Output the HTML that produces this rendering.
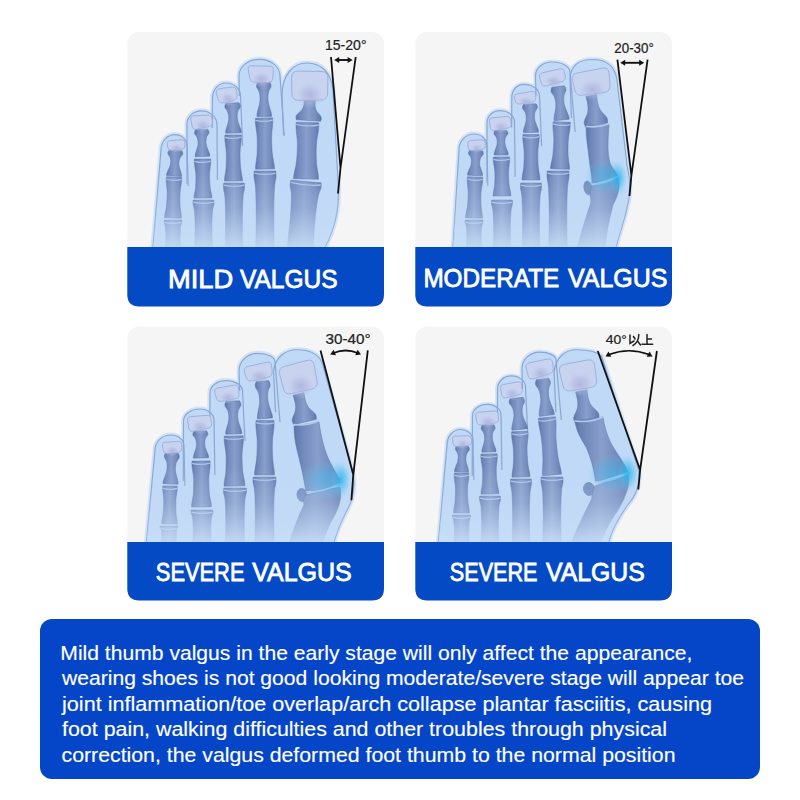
<!DOCTYPE html>
<html><head><meta charset="utf-8"><style>
html,body{margin:0;padding:0;background:#fff;}
body{width:800px;height:800px;overflow:hidden;}
svg{display:block;font-family:"Liberation Sans",sans-serif;}
</style></head><body>
<svg width="800" height="800" viewBox="0 0 800 800">
<rect width="800" height="800" fill="#fff"/>
<defs>
<linearGradient id="bx" x1="0" y1="0" x2="1" y2="0">
 <stop offset="0" stop-color="#5c75a8"/><stop offset="0.18" stop-color="#7188bb"/><stop offset="0.5" stop-color="#889ecb"/><stop offset="0.82" stop-color="#738abc"/><stop offset="1" stop-color="#5e77aa"/></linearGradient>
<radialGradient id="nb"><stop offset="0" stop-color="#a9b0d8" stop-opacity="0.8"/><stop offset="0.55" stop-color="#b2b9df" stop-opacity="0.5"/><stop offset="1" stop-color="#bcc4e6" stop-opacity="0"/></radialGradient>
<radialGradient id="glow2"><stop offset="0" stop-color="#28b4ee" stop-opacity="0.55"/><stop offset="0.55" stop-color="#3cbaf0" stop-opacity="0.3"/><stop offset="1" stop-color="#60c8f4" stop-opacity="0"/></radialGradient>
<radialGradient id="glow"><stop offset="0" stop-color="#12b0f0" stop-opacity="0.8"/><stop offset="0.5" stop-color="#30b8f0" stop-opacity="0.42"/><stop offset="1" stop-color="#60c8f4" stop-opacity="0"/></radialGradient>
<linearGradient id="fdA" gradientUnits="userSpaceOnUse" x1="0" y1="170" x2="0" y2="247">
 <stop offset="0" stop-color="#c4dbf6" stop-opacity="0"/><stop offset="0.5" stop-color="#c4dbf6" stop-opacity="0.3"/><stop offset="1" stop-color="#c8def8" stop-opacity="0.9"/></linearGradient>
<linearGradient id="fdB" gradientUnits="userSpaceOnUse" x1="0" y1="465" x2="0" y2="542">
 <stop offset="0" stop-color="#c4dbf6" stop-opacity="0"/><stop offset="0.5" stop-color="#c4dbf6" stop-opacity="0.3"/><stop offset="1" stop-color="#c8def8" stop-opacity="0.9"/></linearGradient>
</defs><rect x="127.3" y="32" width="256.7" height="274.5" rx="12" fill="#f5f5f5"/><rect x="415.3" y="32" width="256.7" height="274.5" rx="12" fill="#f5f5f5"/><rect x="127.3" y="326.5" width="256.7" height="274.1" rx="12" fill="#f5f5f5"/><rect x="415.3" y="326.5" width="256.7" height="274.1" rx="12" fill="#f5f5f5"/><path d="M153,247 L161,150 C161,141.38 167.16,134.6 175,134.6 C181.72,134.6 187,139.62 187,146 L190,247 Z" fill="#d2e3f8" stroke="#d2e3f8" stroke-width="5" stroke-linejoin="round"/><path d="M187,247 L187,124 C187,116.61 193.38,110.8 201.5,110.8 C210.18,110.8 217,117.05 217,125 L218,247 Z" fill="#d2e3f8" stroke="#d2e3f8" stroke-width="5" stroke-linejoin="round"/><path d="M211,247 L212.5,98 C212.5,89.6 218.44,83 226,83 C234.12,83 240.5,88.72 240.5,96 L247,247 Z" fill="#d2e3f8" stroke="#d2e3f8" stroke-width="5" stroke-linejoin="round"/><path d="M242,247 L239,76 C239,66.65 248.02,59.3 259.5,59.3 C270.98,59.3 280,66.65 280,76 L292,247 Z" fill="#d2e3f8" stroke="#d2e3f8" stroke-width="5" stroke-linejoin="round"/><path d="M288,247 L282,95 C282,75 293,63 307,63 C321,63 331,72 333,90 L338.5,190 C339,215 333,232 325,247 Z" fill="#d2e3f8" stroke="#d2e3f8" stroke-width="5" stroke-linejoin="round"/><path d="M153,247 L161,150 C161,141.38 167.16,134.6 175,134.6 C181.72,134.6 187,139.62 187,146 L190,247 Z" fill="#c0d9f6"/><path d="M187,247 L187,124 C187,116.61 193.38,110.8 201.5,110.8 C210.18,110.8 217,117.05 217,125 L218,247 Z" fill="#c0d9f6"/><path d="M211,247 L212.5,98 C212.5,89.6 218.44,83 226,83 C234.12,83 240.5,88.72 240.5,96 L247,247 Z" fill="#c0d9f6"/><path d="M242,247 L239,76 C239,66.65 248.02,59.3 259.5,59.3 C270.98,59.3 280,66.65 280,76 L292,247 Z" fill="#c0d9f6"/><path d="M288,247 L282,95 C282,75 293,63 307,63 C321,63 331,72 333,90 L338.5,190 C339,215 333,232 325,247 Z" fill="#c0d9f6"/><path d="M153,247 L161,150 C161,141.38 167.16,134.6 175,134.6 C181.72,134.6 187,139.62 187,146 L188.19,186" fill="none" stroke="#8ba6d2" stroke-width="1.2"/><path d="M187,184 L187,124 C187,116.61 193.38,110.8 201.5,110.8 C210.18,110.8 217,117.05 217,125 L217.45,180" fill="none" stroke="#8ba6d2" stroke-width="1.2"/><path d="M212.2,128 L212.5,98 C212.5,89.6 218.44,83 226,83 C234.12,83 240.5,88.72 240.5,96 L242.65,146" fill="none" stroke="#8ba6d2" stroke-width="1.2"/><path d="M239.35,96 L239,76 C239,66.65 248.02,59.3 259.5,59.3 C270.98,59.3 280,66.65 280,76 L284.21,136" fill="none" stroke="#8ba6d2" stroke-width="1.2"/><path d="M283.58,135 L282,95 C282,75 293,63 307,63 C321,63 331,72 333,90 L338.5,190 C339,215 333,232 325,247" fill="none" stroke="#8ba6d2" stroke-width="1.2"/><path d="M165.44,249 C165.5,246.82 165.83,239.72 165.8,235.95 C165.77,232.18 165.56,228.65 165.26,226.38 C164.96,224.11 164.18,223.38 164,222.32 C163.82,221.26 164.15,220.39 164.18,220 L181.82,220 C181.85,220.39 182.18,221.26 182,222.32 C181.82,223.38 181.04,224.11 180.74,226.38 C180.44,228.65 180.23,232.18 180.2,235.95 C180.17,239.72 180.5,246.82 180.56,249 Z" fill="url(#bx)" stroke="#5873a8" stroke-opacity="0.6" stroke-width="0.8"/><path d="M164.27,222.2 Q173,224.7 181.73,222.2" fill="none" stroke="#b4c8ec" stroke-width="1.3" stroke-opacity="0.9"/><path d="M164.5,217.79 C164.56,217.25 164.5,216.56 164.84,214.52 C165.17,212.48 166.11,209.22 166.5,205.53 C166.89,201.85 167.21,196.39 167.16,192.42 C167.12,188.46 166.37,184.33 166.23,181.73 C166.1,179.13 166.33,177.63 166.35,176.81 L181.65,177.19 C181.63,178.01 181.79,179.51 181.53,182.11 C181.27,184.7 180.32,188.78 180.08,192.74 C179.84,196.7 179.89,202.17 180.1,205.87 C180.31,209.56 181.09,212.86 181.32,214.92 C181.56,216.98 181.47,217.66 181.5,218.21 Z" fill="url(#bx)" stroke="#5873a8" stroke-opacity="0.6" stroke-width="0.8"/><path d="M166.3,179.01 Q173.89,181.7 181.59,179.39" fill="none" stroke="#b4c8ec" stroke-width="1.3" stroke-opacity="0.9"/><path d="M166.51,175.56 C166.58,175.14 166.29,174.69 166.89,173.02 C167.49,171.35 169.47,167.63 170.11,165.54 C170.74,163.44 170.75,161.91 170.71,160.45 C170.67,159 170.33,157.92 169.87,156.82 C169.41,155.73 168.23,154.72 167.94,153.89 C167.65,153.07 167.92,152.49 168.13,151.86 C168.34,151.23 169.03,150.42 169.21,150.13 L181.79,150.87 C181.93,151.18 182.52,152.06 182.66,152.71 C182.79,153.36 183,153.97 182.61,154.76 C182.23,155.54 180.94,156.41 180.35,157.44 C179.76,158.47 179.3,159.51 179.09,160.95 C178.88,162.38 178.71,163.91 179.09,166.06 C179.48,168.22 181.01,172.15 181.41,173.88 C181.81,175.61 181.47,176.01 181.49,176.44 Z" fill="url(#bx)" stroke="#5873a8" stroke-opacity="0.6" stroke-width="0.8"/><path d="M194.68,249 C194.75,245.32 195.13,233.32 195.1,226.95 C195.06,220.58 194.82,214.62 194.47,210.78 C194.12,206.94 193.21,205.72 193,203.92 C192.79,202.12 193.18,200.65 193.21,200 L213.79,200 C213.82,200.65 214.21,202.12 214,203.92 C213.79,205.72 212.88,206.94 212.53,210.78 C212.18,214.62 211.94,220.58 211.9,226.95 C211.87,233.32 212.25,245.32 212.32,249 Z" fill="url(#bx)" stroke="#5873a8" stroke-opacity="0.6" stroke-width="0.8"/><path d="M193.31,202.2 Q203.5,204.7 213.69,202.2" fill="none" stroke="#b4c8ec" stroke-width="1.3" stroke-opacity="0.9"/><path d="M194,198.12 C194.04,197.59 193.96,196.95 194.23,194.99 C194.51,193.04 195.38,189.91 195.65,186.39 C195.92,182.88 196.05,177.68 195.85,173.91 C195.65,170.14 194.7,166.25 194.46,163.78 C194.22,161.32 194.41,159.88 194.4,159.1 L210.6,158.9 C210.61,159.68 210.84,161.1 210.66,163.58 C210.48,166.05 209.63,169.96 209.53,173.73 C209.43,177.5 209.69,182.7 210.05,186.21 C210.41,189.71 211.36,192.82 211.69,194.77 C212.01,196.71 211.95,197.37 212,197.88 Z" fill="url(#bx)" stroke="#5873a8" stroke-opacity="0.6" stroke-width="0.8"/><path d="M194.43,161.3 Q202.56,163.7 210.63,161.1" fill="none" stroke="#b4c8ec" stroke-width="1.3" stroke-opacity="0.9"/><path d="M195.25,156.74 C195.28,156.29 194.96,155.85 195.38,154.03 C195.8,152.22 197.37,148.11 197.79,145.84 C198.21,143.58 198.07,141.96 197.9,140.44 C197.73,138.91 197.31,137.8 196.76,136.69 C196.22,135.58 194.99,134.63 194.63,133.79 C194.28,132.94 194.49,132.3 194.63,131.62 C194.78,130.94 195.37,130.02 195.51,129.7 L207.69,129.3 C207.85,129.61 208.5,130.49 208.69,131.16 C208.88,131.83 209.13,132.45 208.84,133.31 C208.54,134.18 207.38,135.21 206.91,136.35 C206.44,137.49 206.09,138.63 206.02,140.16 C205.95,141.7 205.92,143.32 206.49,145.56 C207.06,147.79 208.9,151.78 209.44,153.57 C209.98,155.35 209.69,155.81 209.75,156.26 Z" fill="url(#bx)" stroke="#5873a8" stroke-opacity="0.6" stroke-width="0.8"/><path d="M225.18,249 C225.25,244.05 225.63,227.88 225.6,219.3 C225.56,210.72 225.32,202.69 224.97,197.52 C224.62,192.35 223.71,190.7 223.5,188.28 C223.29,185.86 223.68,183.88 223.71,183 L244.29,183 C244.32,183.88 244.71,185.86 244.5,188.28 C244.29,190.7 243.38,192.35 243.03,197.52 C242.68,202.69 242.44,210.72 242.4,219.3 C242.37,227.88 242.75,244.05 242.82,249 Z" fill="url(#bx)" stroke="#5873a8" stroke-opacity="0.6" stroke-width="0.8"/><path d="M223.81,185.2 Q234,187.7 244.19,185.2" fill="none" stroke="#b4c8ec" stroke-width="1.3" stroke-opacity="0.9"/><path d="M224.5,181.1 C224.54,180.48 224.46,179.72 224.73,177.41 C225.01,175.11 225.88,171.42 226.15,167.28 C226.42,163.13 226.55,157 226.35,152.55 C226.15,148.11 225.2,143.52 224.96,140.61 C224.72,137.7 224.91,136.01 224.9,135.09 L241.1,134.91 C241.11,135.83 241.34,137.52 241.16,140.43 C240.98,143.35 240.13,147.96 240.03,152.41 C239.93,156.85 240.19,162.99 240.55,167.12 C240.91,171.26 241.86,174.93 242.19,177.23 C242.51,179.52 242.45,180.29 242.5,180.9 Z" fill="url(#bx)" stroke="#5873a8" stroke-opacity="0.6" stroke-width="0.8"/><path d="M224.92,137.29 Q233.05,139.7 241.12,137.11" fill="none" stroke="#b4c8ec" stroke-width="1.3" stroke-opacity="0.9"/><path d="M225.75,133.26 C225.78,132.76 225.44,132.27 225.89,130.25 C226.34,128.23 228.01,123.67 228.45,121.15 C228.9,118.64 228.75,116.84 228.56,115.14 C228.38,113.45 227.92,112.21 227.34,110.98 C226.75,109.75 225.44,108.69 225.06,107.75 C224.68,106.81 224.9,106.11 225.06,105.35 C225.21,104.59 225.84,103.57 225.99,103.22 L239.01,102.78 C239.19,103.13 239.88,104.11 240.08,104.85 C240.29,105.59 240.56,106.29 240.24,107.25 C239.92,108.21 238.68,109.35 238.18,110.62 C237.68,111.89 237.31,113.15 237.24,114.86 C237.17,116.56 237.13,118.36 237.75,120.85 C238.36,123.33 240.33,127.77 240.91,129.75 C241.5,131.73 241.19,132.24 241.25,132.74 Z" fill="url(#bx)" stroke="#5873a8" stroke-opacity="0.6" stroke-width="0.8"/><path d="M255.76,249 C255.83,243.15 256.24,224.04 256.2,213.9 C256.16,203.76 255.91,194.27 255.54,188.16 C255.17,182.05 254.22,180.1 254,177.24 C253.78,174.38 254.18,172.04 254.22,171 L275.78,171 C275.82,172.04 276.22,174.38 276,177.24 C275.78,180.1 274.83,182.05 274.46,188.16 C274.09,194.27 273.84,203.76 273.8,213.9 C273.76,224.04 274.17,243.15 274.24,249 Z" fill="url(#bx)" stroke="#5873a8" stroke-opacity="0.6" stroke-width="0.8"/><path d="M254.33,173.2 Q265,175.7 275.67,173.2" fill="none" stroke="#b4c8ec" stroke-width="1.3" stroke-opacity="0.9"/><path d="M255.5,169.19 C255.54,168.51 255.44,167.66 255.71,165.1 C255.97,162.54 256.86,158.45 257.1,153.85 C257.34,149.25 257.42,142.45 257.16,137.52 C256.91,132.59 255.86,127.51 255.57,124.29 C255.29,121.06 255.47,119.19 255.45,118.17 L272.55,117.83 C272.57,118.85 272.83,120.72 272.67,123.95 C272.51,127.19 271.66,132.31 271.6,137.24 C271.54,142.17 271.88,148.97 272.3,153.55 C272.72,158.13 273.77,162.2 274.13,164.74 C274.5,167.28 274.44,168.13 274.5,168.81 Z" fill="url(#bx)" stroke="#5873a8" stroke-opacity="0.6" stroke-width="0.8"/><path d="M255.49,120.37 Q264.09,122.7 272.59,120.03" fill="none" stroke="#b4c8ec" stroke-width="1.3" stroke-opacity="0.9"/><path d="M257,116.61 C257.03,116.03 256.72,115.46 257.17,113.15 C257.62,110.84 259.25,105.65 259.7,102.76 C260.15,99.88 260.04,97.81 259.89,95.86 C259.74,93.91 259.33,92.47 258.81,91.04 C258.28,89.61 257.06,88.37 256.72,87.28 C256.38,86.19 256.6,85.38 256.75,84.52 C256.91,83.65 257.51,82.49 257.66,82.09 L269.84,81.91 C270,82.31 270.64,83.45 270.82,84.31 C271,85.17 271.24,85.97 270.93,87.07 C270.62,88.17 269.44,89.45 268.95,90.9 C268.47,92.34 268.1,93.78 268.01,95.74 C267.92,97.7 267.86,99.77 268.4,102.64 C268.94,105.5 270.72,110.66 271.23,112.95 C271.75,115.24 271.45,115.82 271.5,116.39 Z" fill="url(#bx)" stroke="#5873a8" stroke-opacity="0.6" stroke-width="0.8"/><path d="M287.03,247.85 C287.58,242.79 289.62,226.31 290.35,217.53 C291.08,208.75 291.45,200.5 291.4,195.17 C291.36,189.84 290.17,188.03 290.08,185.53 C289.99,183.03 290.74,181.05 290.87,180.16 L321.13,182.84 C321.1,183.75 321.49,185.82 320.96,188.27 C320.43,190.72 318.94,192.29 317.96,197.53 C316.97,202.77 315.88,210.95 315.05,219.72 C314.22,228.49 313.32,245.08 312.97,250.15 Z" fill="url(#bx)" stroke="#5873a8" stroke-opacity="0.6" stroke-width="0.8"/><path d="M290.83,182.36 Q305.58,186.18 320.78,185.02" fill="none" stroke="#b4c8ec" stroke-width="1.3" stroke-opacity="0.9"/><path d="M293.5,178.67 C293.59,177.92 293.51,176.97 294,174.16 C294.49,171.34 295.88,166.86 296.45,161.78 C297.03,156.71 297.5,149.19 297.43,143.72 C297.37,138.25 296.27,132.57 296.07,128.98 C295.88,125.4 296.22,123.33 296.25,122.2 L318.75,122.8 C318.72,123.93 318.95,126.01 318.57,129.58 C318.18,133.15 316.78,138.77 316.43,144.22 C316.07,149.68 316.14,157.22 316.45,162.32 C316.75,167.41 317.9,171.97 318.24,174.8 C318.58,177.64 318.45,178.58 318.5,179.33 Z" fill="url(#bx)" stroke="#5873a8" stroke-opacity="0.6" stroke-width="0.8"/><path d="M296.2,124.4 Q307.38,127.2 318.69,125" fill="none" stroke="#b4c8ec" stroke-width="1.3" stroke-opacity="0.9"/><path d="M296.4,119.71 C296.38,119.02 295.37,117.22 296.3,115.55 C297.22,113.87 300.65,111.6 301.94,109.68 C303.23,107.76 303.67,106.13 304.06,104.04 C304.45,101.95 304.23,98.28 304.26,97.13 L315.74,97.87 C315.62,99.02 314.93,102.63 315.04,104.76 C315.15,106.88 315.38,108.55 316.41,110.62 C317.44,112.69 320.55,115.4 321.24,117.17 C321.94,118.95 320.71,120.6 320.6,121.29 Z" fill="url(#bx)" stroke="#5873a8" stroke-opacity="0.6" stroke-width="0.8"/><path d="M170.09,140.7 L181.51,139.7 Q185,139.4 185,142.9 L185,145.5 Q185,149 181.52,149.36 L171.88,150.34 Q168.4,150.7 167.76,147.26 L167.24,144.44 Q166.6,141 170.09,140.7 Z" fill="#c8d3f0" stroke="#8fa3d2" stroke-width="0.9" stroke-opacity="0.8"/><ellipse cx="176.54" cy="148.16" rx="6.65" ry="4.44" fill="url(#nb)"/><path d="M194,115.81 L207.5,115.19 Q211.5,115 212.07,118.96 L212.43,121.54 Q213,125.5 209.1,126.38 L196.9,129.12 Q193,130 192.16,126.09 L190.84,119.91 Q190,116 194,115.81 Z" fill="#c8d3f0" stroke="#8fa3d2" stroke-width="0.9" stroke-opacity="0.8"/><ellipse cx="202.61" cy="125.61" rx="7.75" ry="6.44" fill="url(#nb)"/><path d="M219.95,88.69 L231.05,87.11 Q236,86.4 236.64,91.36 L237.06,94.54 Q237.7,99.5 232.84,100.67 L224.26,102.73 Q219.4,103.9 217.95,99.12 L216.45,94.18 Q215,89.4 219.95,88.69 Z" fill="#c8d3f0" stroke="#8fa3d2" stroke-width="0.9" stroke-opacity="0.8"/><ellipse cx="228.02" cy="99.28" rx="7.64" ry="6.82" fill="url(#nb)"/><path d="M251.5,65.7 L269.75,66.15 Q273.75,66.25 273.44,70.24 L272.81,78.51 Q272.5,82.5 268.5,82.5 L254.6,82.5 Q250.6,82.5 249.88,78.57 L248.22,69.53 Q247.5,65.6 251.5,65.7 Z" fill="#c8d3f0" stroke="#8fa3d2" stroke-width="0.9" stroke-opacity="0.8"/><ellipse cx="261.39" cy="79.6" rx="9.45" ry="7.73" fill="url(#nb)"/><path d="M298.5,71.1 L321,71.4 Q328,71.5 327.88,78.5 L327.62,93 Q327.5,100 320.5,100.1 L299,100.4 Q292,100.5 291.88,93.5 L291.62,78 Q291.5,71 298.5,71.1 Z" fill="#c8d3f0" stroke="#8fa3d2" stroke-width="0.9" stroke-opacity="0.8"/><ellipse cx="309.75" cy="95.18" rx="13.14" ry="13.28" fill="url(#nb)"/><clipPath id="c1"><path d="M153,247 L161,150 C161,141.38 167.16,134.6 175,134.6 C181.72,134.6 187,139.62 187,146 L190,247 Z"/><path d="M187,247 L187,124 C187,116.61 193.38,110.8 201.5,110.8 C210.18,110.8 217,117.05 217,125 L218,247 Z"/><path d="M211,247 L212.5,98 C212.5,89.6 218.44,83 226,83 C234.12,83 240.5,88.72 240.5,96 L247,247 Z"/><path d="M242,247 L239,76 C239,66.65 248.02,59.3 259.5,59.3 C270.98,59.3 280,66.65 280,76 L292,247 Z"/><path d="M288,247 L282,95 C282,75 293,63 307,63 C321,63 331,72 333,90 L338.5,190 C339,215 333,232 325,247 Z"/></clipPath><rect clip-path="url(#c1)" x="100" y="170" width="600" height="77" fill="url(#fdA)"/><path d="M453,247 L459,150 C459,141.04 465.6,134 474,134 C481.28,134 487,139.28 487,146 L489,247 Z" fill="#d2e3f8" stroke="#d2e3f8" stroke-width="5" stroke-linejoin="round"/><path d="M487,247 L487,123 C487,116.06 492.72,110.6 500,110.6 C508.12,110.6 514.5,115.62 514.5,122 L516,247 Z" fill="#d2e3f8" stroke="#d2e3f8" stroke-width="5" stroke-linejoin="round"/><path d="M511,247 L511.8,97.5 C511.8,90.16 516.99,84.4 523.6,84.4 C532.5,84.4 539.5,89.5 539.5,96 L546,247 Z" fill="#d2e3f8" stroke="#d2e3f8" stroke-width="5" stroke-linejoin="round"/><path d="M540,247 L535.5,76 C535.5,68.16 542.76,62 552,62 C562.08,62 570,66.4 570,72 L585,247 Z" fill="#d2e3f8" stroke="#d2e3f8" stroke-width="5" stroke-linejoin="round"/><path d="M576,247 L570,78 C571,65 580,59.5 592.5,59.5 C606,59.5 615,66 617,80 L627,165 C631,180 631,195 626,212 C622,228 618,238 616,247 Z" fill="#d2e3f8" stroke="#d2e3f8" stroke-width="5" stroke-linejoin="round"/><path d="M453,247 L459,150 C459,141.04 465.6,134 474,134 C481.28,134 487,139.28 487,146 L489,247 Z" fill="#c0d9f6"/><path d="M487,247 L487,123 C487,116.06 492.72,110.6 500,110.6 C508.12,110.6 514.5,115.62 514.5,122 L516,247 Z" fill="#c0d9f6"/><path d="M511,247 L511.8,97.5 C511.8,90.16 516.99,84.4 523.6,84.4 C532.5,84.4 539.5,89.5 539.5,96 L546,247 Z" fill="#c0d9f6"/><path d="M540,247 L535.5,76 C535.5,68.16 542.76,62 552,62 C562.08,62 570,66.4 570,72 L585,247 Z" fill="#c0d9f6"/><path d="M576,247 L570,78 C571,65 580,59.5 592.5,59.5 C606,59.5 615,66 617,80 L627,165 C631,180 631,195 626,212 C622,228 618,238 616,247 Z" fill="#c0d9f6"/><path d="M453,247 L459,150 C459,141.04 465.6,134 474,134 C481.28,134 487,139.28 487,146 L487.79,186" fill="none" stroke="#8ba6d2" stroke-width="1.2"/><path d="M487,183 L487,123 C487,116.06 492.72,110.6 500,110.6 C508.12,110.6 514.5,115.62 514.5,122 L515.16,177" fill="none" stroke="#8ba6d2" stroke-width="1.2"/><path d="M511.64,127.5 L511.8,97.5 C511.8,90.16 516.99,84.4 523.6,84.4 C532.5,84.4 539.5,89.5 539.5,96 L541.65,146" fill="none" stroke="#8ba6d2" stroke-width="1.2"/><path d="M536.03,96 L535.5,76 C535.5,68.16 542.76,62 552,62 C562.08,62 570,66.4 570,72 L575.14,132" fill="none" stroke="#8ba6d2" stroke-width="1.2"/><path d="M571.42,118 L570,78 C571,65 580,59.5 592.5,59.5 C606,59.5 615,66 617,80 L627,165 C631,180 631,195 626,212 C622,228 618,238 616,247" fill="none" stroke="#8ba6d2" stroke-width="1.2"/><path d="M466.44,249 C466.5,246.82 466.83,239.72 466.8,235.95 C466.77,232.18 466.56,228.65 466.26,226.38 C465.96,224.11 465.18,223.38 465,222.32 C464.82,221.26 465.15,220.39 465.18,220 L482.82,220 C482.85,220.39 483.18,221.26 483,222.32 C482.82,223.38 482.04,224.11 481.74,226.38 C481.44,228.65 481.23,232.18 481.2,235.95 C481.17,239.72 481.5,246.82 481.56,249 Z" fill="url(#bx)" stroke="#5873a8" stroke-opacity="0.6" stroke-width="0.8"/><path d="M465.27,222.2 Q474,224.7 482.73,222.2" fill="none" stroke="#b4c8ec" stroke-width="1.3" stroke-opacity="0.9"/><path d="M465.5,217.79 C465.56,217.25 465.5,216.56 465.84,214.52 C466.17,212.48 467.11,209.22 467.5,205.53 C467.89,201.85 468.21,196.39 468.16,192.42 C468.12,188.46 467.37,184.33 467.23,181.73 C467.1,179.13 467.33,177.63 467.35,176.81 L482.65,177.19 C482.63,178.01 482.79,179.51 482.53,182.11 C482.27,184.7 481.32,188.78 481.08,192.74 C480.84,196.7 480.89,202.17 481.1,205.87 C481.31,209.56 482.09,212.86 482.32,214.92 C482.56,216.98 482.47,217.66 482.5,218.21 Z" fill="url(#bx)" stroke="#5873a8" stroke-opacity="0.6" stroke-width="0.8"/><path d="M467.3,179.01 Q474.89,181.7 482.59,179.39" fill="none" stroke="#b4c8ec" stroke-width="1.3" stroke-opacity="0.9"/><path d="M467.51,175.2 C467.56,174.79 467.26,174.36 467.83,172.71 C468.4,171.06 470.31,167.38 470.9,165.32 C471.5,163.26 471.47,161.75 471.4,160.33 C471.34,158.91 470.98,157.85 470.49,156.79 C470.01,155.73 468.81,154.76 468.51,153.96 C468.2,153.15 468.46,152.58 468.66,151.96 C468.86,151.34 469.53,150.53 469.71,150.25 L482.29,150.75 C482.45,151.05 483.05,151.91 483.2,152.54 C483.35,153.17 483.56,153.77 483.19,154.54 C482.83,155.32 481.55,156.19 480.99,157.21 C480.42,158.23 479.98,159.26 479.8,160.67 C479.62,162.08 479.47,163.58 479.9,165.68 C480.33,167.78 481.94,171.6 482.37,173.29 C482.8,174.98 482.47,175.38 482.49,175.8 Z" fill="url(#bx)" stroke="#5873a8" stroke-opacity="0.6" stroke-width="0.8"/><path d="M493.18,249 C493.25,245.32 493.63,233.32 493.6,226.95 C493.57,220.58 493.32,214.62 492.97,210.78 C492.62,206.94 491.71,205.72 491.5,203.92 C491.29,202.12 491.67,200.65 491.71,200 L512.29,200 C512.32,200.65 512.71,202.12 512.5,203.92 C512.29,205.72 511.38,206.94 511.03,210.78 C510.68,214.62 510.43,220.58 510.4,226.95 C510.37,233.32 510.75,245.32 510.82,249 Z" fill="url(#bx)" stroke="#5873a8" stroke-opacity="0.6" stroke-width="0.8"/><path d="M491.81,202.2 Q502,204.7 512.18,202.2" fill="none" stroke="#b4c8ec" stroke-width="1.3" stroke-opacity="0.9"/><path d="M493,196.12 C493.04,195.59 492.96,194.95 493.23,192.99 C493.51,191.04 494.38,187.91 494.65,184.39 C494.92,180.88 495.05,175.68 494.85,171.91 C494.65,168.14 493.7,164.25 493.46,161.78 C493.22,159.32 493.41,157.88 493.4,157.1 L509.6,156.9 C509.61,157.68 509.84,159.1 509.66,161.58 C509.48,164.05 508.63,167.96 508.53,171.73 C508.43,175.5 508.69,180.7 509.05,184.21 C509.41,187.71 510.36,190.82 510.69,192.77 C511.01,194.71 510.95,195.37 511,195.88 Z" fill="url(#bx)" stroke="#5873a8" stroke-opacity="0.6" stroke-width="0.8"/><path d="M493.43,159.3 Q501.56,161.7 509.63,159.1" fill="none" stroke="#b4c8ec" stroke-width="1.3" stroke-opacity="0.9"/><path d="M494.2,155.09 C494.23,154.68 493.93,154.27 494.38,152.63 C494.83,150.99 496.43,147.3 496.88,145.25 C497.33,143.2 497.23,141.73 497.1,140.35 C496.97,138.96 496.58,137.94 496.08,136.93 C495.58,135.92 494.41,135.03 494.09,134.26 C493.76,133.49 493.98,132.91 494.13,132.3 C494.29,131.68 494.87,130.86 495.02,130.57 L506.78,130.43 C506.93,130.71 507.54,131.52 507.71,132.13 C507.88,132.74 508.11,133.31 507.8,134.09 C507.5,134.87 506.36,135.78 505.88,136.81 C505.4,137.84 505.04,138.86 504.94,140.25 C504.84,141.64 504.78,143.11 505.28,145.15 C505.78,147.18 507.47,150.84 507.96,152.47 C508.45,154.09 508.16,154.51 508.2,154.91 Z" fill="url(#bx)" stroke="#5873a8" stroke-opacity="0.6" stroke-width="0.8"/><path d="M522.18,249 C522.25,244.05 522.63,227.88 522.6,219.3 C522.57,210.72 522.32,202.69 521.97,197.52 C521.62,192.35 520.71,190.7 520.5,188.28 C520.29,185.86 520.68,183.88 520.71,183 L541.29,183 C541.32,183.88 541.71,185.86 541.5,188.28 C541.29,190.7 540.38,192.35 540.03,197.52 C539.68,202.69 539.43,210.72 539.4,219.3 C539.37,227.88 539.75,244.05 539.82,249 Z" fill="url(#bx)" stroke="#5873a8" stroke-opacity="0.6" stroke-width="0.8"/><path d="M520.82,185.2 Q531,187.7 541.18,185.2" fill="none" stroke="#b4c8ec" stroke-width="1.3" stroke-opacity="0.9"/><path d="M522,180 C522.04,179.39 521.97,178.64 522.27,176.36 C522.57,174.09 523.48,170.44 523.8,166.35 C524.12,162.25 524.31,156.19 524.16,151.79 C524.01,147.39 523.11,142.84 522.9,139.96 C522.69,137.08 522.9,135.41 522.9,134.5 L539.1,134.5 C539.1,135.41 539.31,137.08 539.1,139.96 C538.89,142.84 537.99,147.39 537.84,151.79 C537.69,156.19 537.88,162.25 538.2,166.35 C538.52,170.44 539.43,174.09 539.73,176.36 C540.03,178.64 539.96,179.39 540,180 Z" fill="url(#bx)" stroke="#5873a8" stroke-opacity="0.6" stroke-width="0.8"/><path d="M522.9,136.7 Q531,139.2 539.1,136.7" fill="none" stroke="#b4c8ec" stroke-width="1.3" stroke-opacity="0.9"/><path d="M523.51,132.82 C523.52,132.34 523.19,131.88 523.61,129.96 C524.03,128.04 525.61,123.69 526.02,121.29 C526.44,118.89 526.28,117.19 526.08,115.58 C525.89,113.97 525.44,112.8 524.87,111.63 C524.29,110.47 523.01,109.47 522.64,108.58 C522.26,107.7 522.47,107.02 522.62,106.3 C522.76,105.58 523.36,104.6 523.51,104.27 L536.09,103.73 C536.27,104.06 536.95,104.98 537.15,105.69 C537.36,106.39 537.62,107.05 537.32,107.97 C537.02,108.88 535.83,109.98 535.36,111.19 C534.88,112.4 534.53,113.6 534.48,115.22 C534.42,116.84 534.4,118.56 535.02,120.91 C535.63,123.26 537.57,127.46 538.15,129.34 C538.73,131.22 538.44,131.71 538.49,132.18 Z" fill="url(#bx)" stroke="#5873a8" stroke-opacity="0.6" stroke-width="0.8"/><path d="M548.76,249 C548.83,243.15 549.24,224.04 549.2,213.9 C549.16,203.76 548.91,194.27 548.54,188.16 C548.17,182.05 547.22,180.1 547,177.24 C546.78,174.38 547.18,172.04 547.22,171 L568.78,171 C568.82,172.04 569.22,174.38 569,177.24 C568.78,180.1 567.83,182.05 567.46,188.16 C567.09,194.27 566.84,203.76 566.8,213.9 C566.76,224.04 567.17,243.15 567.24,249 Z" fill="url(#bx)" stroke="#5873a8" stroke-opacity="0.6" stroke-width="0.8"/><path d="M547.33,173.2 Q558,175.7 568.67,173.2" fill="none" stroke="#b4c8ec" stroke-width="1.3" stroke-opacity="0.9"/><path d="M550.51,168.66 C550.58,168.03 550.53,167.25 550.93,164.91 C551.33,162.57 552.43,158.84 552.91,154.63 C553.4,150.41 553.83,144.15 553.84,139.6 C553.84,135.05 553.07,130.32 552.95,127.33 C552.84,124.35 553.12,122.63 553.16,121.69 L570.24,122.31 C570.21,123.25 570.37,124.98 570.04,127.95 C569.71,130.92 568.59,135.58 568.27,140.12 C567.95,144.66 567.93,150.93 568.11,155.17 C568.28,159.42 569.11,163.21 569.34,165.57 C569.58,167.93 569.47,168.72 569.49,169.34 Z" fill="url(#bx)" stroke="#5873a8" stroke-opacity="0.6" stroke-width="0.8"/><path d="M553.08,123.89 Q561.53,126.7 570.16,124.51" fill="none" stroke="#b4c8ec" stroke-width="1.3" stroke-opacity="0.9"/><path d="M554.24,120.8 C554.22,120.24 553.85,119.71 554.11,117.43 C554.36,115.14 555.58,109.93 555.79,107.08 C556,104.23 555.69,102.23 555.36,100.35 C555.04,98.46 554.49,97.11 553.82,95.77 C553.14,94.43 551.78,93.34 551.33,92.31 C550.88,91.29 551.03,90.48 551.12,89.62 C551.2,88.77 551.72,87.58 551.84,87.17 L564.36,85.83 C564.57,86.2 565.32,87.25 565.59,88.07 C565.85,88.89 566.17,89.64 565.95,90.74 C565.73,91.84 564.63,93.2 564.26,94.65 C563.88,96.1 563.64,97.54 563.72,99.45 C563.8,101.36 563.92,103.38 564.73,106.12 C565.54,108.86 567.84,113.69 568.57,115.87 C569.31,118.05 569.06,118.64 569.16,119.2 Z" fill="url(#bx)" stroke="#5873a8" stroke-opacity="0.6" stroke-width="0.8"/><path d="M585.52,126.97 C585.31,126.1 583.89,124.07 584.23,121.72 C584.57,119.38 586.95,115.65 587.55,112.9 C588.15,110.16 588.07,107.99 587.81,105.24 C587.55,102.5 586.3,97.9 585.99,96.44 L596.41,94.56 C596.63,96.05 597.06,100.79 597.77,103.46 C598.48,106.12 599.16,108.18 600.68,110.55 C602.2,112.91 605.73,115.58 606.86,117.66 C608,119.74 607.38,122.13 607.48,123.03 Z" fill="url(#bx)" stroke="#5873a8" stroke-opacity="0.6" stroke-width="0.8"/><path d="M470.89,140.49 L481.91,139.81 Q485.4,139.6 485.4,143.1 L485.4,145.7 Q485.4,149.2 481.92,149.55 L471.98,150.55 Q468.5,150.9 468.12,147.42 L467.78,144.18 Q467.4,140.7 470.89,140.49 Z" fill="#c8d3f0" stroke="#8fa3d2" stroke-width="0.9" stroke-opacity="0.8"/><ellipse cx="476.85" cy="148.32" rx="6.49" ry="4.62" fill="url(#nb)"/><path d="M492.68,117.79 L506.12,116.41 Q510.1,116 510.7,119.95 L511.2,123.25 Q511.8,127.2 507.87,127.96 L494.93,130.44 Q491,131.2 490.3,127.26 L489.4,122.14 Q488.7,118.2 492.68,117.79 Z" fill="#c8d3f0" stroke="#8fa3d2" stroke-width="0.9" stroke-opacity="0.8"/><ellipse cx="501.05" cy="127.08" rx="7.74" ry="5.94" fill="url(#nb)"/><path d="M517.44,93.9 L531.46,91.4 Q535.4,90.7 535.62,94.69 L535.78,97.41 Q536,101.4 532.05,102.06 L520.25,104.04 Q516.3,104.7 515.23,100.85 L514.57,98.45 Q513.5,94.6 517.44,93.9 Z" fill="#c8d3f0" stroke="#8fa3d2" stroke-width="0.9" stroke-opacity="0.8"/><ellipse cx="525.85" cy="101.23" rx="8.01" ry="4.72" fill="url(#nb)"/><path d="M542.79,72.63 L559.31,68.97 Q563.7,68 564.52,72.42 L565.18,75.98 Q566,80.4 561.67,81.63 L546.73,85.87 Q542.4,87.1 541.12,82.79 L539.68,77.91 Q538.4,73.6 542.79,72.63 Z" fill="#c8d3f0" stroke="#8fa3d2" stroke-width="0.9" stroke-opacity="0.8"/><ellipse cx="553.65" cy="81.48" rx="9.33" ry="6.34" fill="url(#nb)"/><path d="M577.38,72.96 L602.32,68.14 Q608.7,66.9 609.15,73.38 L609.95,85.12 Q610.4,91.6 603.96,92.45 L582.54,95.25 Q576.1,96.1 574.63,89.77 L572.47,80.53 Q571,74.2 577.38,72.96 Z" fill="#c8d3f0" stroke="#8fa3d2" stroke-width="0.9" stroke-opacity="0.8"/><ellipse cx="592.65" cy="89.77" rx="13.82" ry="10.12" fill="url(#nb)"/><ellipse transform="rotate(-10 588 188)" cx="588" cy="188" rx="4" ry="7" fill="#7089bb" stroke="#6680b2" stroke-width="0.7"/><path d="M592,186 C600,184 610,180 618,177 C621,186 618,196 613,205 C609,220 606,235 605,249 L577,249 C581,232 587,215 591,202 C590,195 590,190 592,186 Z" fill="url(#bx)" stroke="#5873a8" stroke-opacity="0.6" stroke-width="0.8"/><path d="M586,127 L609,124 C608,140 607,152 610,163 C613,170 617,172 617.5,176 L592,184 C592,175 590,168 589,158 C588,148 586,138 586,127 Z" fill="url(#bx)" stroke="#5873a8" stroke-opacity="0.6" stroke-width="0.8"/><path d="M592.5,184 Q606,184 617.5,176.5" fill="none" stroke="#b0c9ec" stroke-width="1.6" stroke-linecap="round"/><path d="M586.5,126.5 Q598,128 608.5,124" fill="none" stroke="#b0c9ec" stroke-width="1.6" stroke-linecap="round"/><ellipse cx="606" cy="177" rx="22" ry="18" fill="url(#glow2)"/><ellipse cx="618" cy="179" rx="9" ry="18" fill="url(#glow)"/><clipPath id="c2"><path d="M453,247 L459,150 C459,141.04 465.6,134 474,134 C481.28,134 487,139.28 487,146 L489,247 Z"/><path d="M487,247 L487,123 C487,116.06 492.72,110.6 500,110.6 C508.12,110.6 514.5,115.62 514.5,122 L516,247 Z"/><path d="M511,247 L511.8,97.5 C511.8,90.16 516.99,84.4 523.6,84.4 C532.5,84.4 539.5,89.5 539.5,96 L546,247 Z"/><path d="M540,247 L535.5,76 C535.5,68.16 542.76,62 552,62 C562.08,62 570,66.4 570,72 L585,247 Z"/><path d="M576,247 L570,78 C571,65 580,59.5 592.5,59.5 C606,59.5 615,66 617,80 L627,165 C631,180 631,195 626,212 C622,228 618,238 616,247 Z"/></clipPath><rect clip-path="url(#c2)" x="100" y="170" width="600" height="77" fill="url(#fdA)"/><path d="M146.5,542 L155,450 C155,441.6 162.04,435 171,435 C178.28,435 184,439.84 184,446 L186,542 Z" fill="#d2e3f8" stroke="#d2e3f8" stroke-width="5" stroke-linejoin="round"/><path d="M183,542 L183.5,421 C183.5,414.28 190.72,409 199.9,409 C207.8,409 214,413.84 214,420 L216,542 Z" fill="#d2e3f8" stroke="#d2e3f8" stroke-width="5" stroke-linejoin="round"/><path d="M209,542 L210,393 C210,386.06 217.04,380.6 226,380.6 C235.24,380.6 242.5,385.18 242.5,391 L250,542 Z" fill="#d2e3f8" stroke="#d2e3f8" stroke-width="5" stroke-linejoin="round"/><path d="M244,542 L239,371 C239,361.09 247.36,353.3 258,353.3 C267.52,353.3 275,357.13 275,362 L290,542 Z" fill="#d2e3f8" stroke="#d2e3f8" stroke-width="5" stroke-linejoin="round"/><path d="M282,542 L273.5,372 C275,357 285,349.75 297.3,349.75 C310,349.75 318,354 322,362 L352,470 C356,485 353,500 346,512 C340,524 336,534 334,542 Z" fill="#d2e3f8" stroke="#d2e3f8" stroke-width="5" stroke-linejoin="round"/><path d="M146.5,542 L155,450 C155,441.6 162.04,435 171,435 C178.28,435 184,439.84 184,446 L186,542 Z" fill="#c0d9f6"/><path d="M183,542 L183.5,421 C183.5,414.28 190.72,409 199.9,409 C207.8,409 214,413.84 214,420 L216,542 Z" fill="#c0d9f6"/><path d="M209,542 L210,393 C210,386.06 217.04,380.6 226,380.6 C235.24,380.6 242.5,385.18 242.5,391 L250,542 Z" fill="#c0d9f6"/><path d="M244,542 L239,371 C239,361.09 247.36,353.3 258,353.3 C267.52,353.3 275,357.13 275,362 L290,542 Z" fill="#c0d9f6"/><path d="M282,542 L273.5,372 C275,357 285,349.75 297.3,349.75 C310,349.75 318,354 322,362 L352,470 C356,485 353,500 346,512 C340,524 336,534 334,542 Z" fill="#c0d9f6"/><path d="M146.5,542 L155,450 C155,441.6 162.04,435 171,435 C178.28,435 184,439.84 184,446 L184.83,486" fill="none" stroke="#8ba6d2" stroke-width="1.2"/><path d="M183.25,481 L183.5,421 C183.5,414.28 190.72,409 199.9,409 C207.8,409 214,413.84 214,420 L214.9,475" fill="none" stroke="#8ba6d2" stroke-width="1.2"/><path d="M209.8,423 L210,393 C210,386.06 217.04,380.6 226,380.6 C235.24,380.6 242.5,385.18 242.5,391 L244.98,441" fill="none" stroke="#8ba6d2" stroke-width="1.2"/><path d="M239.58,391 L239,371 C239,361.09 247.36,353.3 258,353.3 C267.52,353.3 275,357.13 275,362 L280,422" fill="none" stroke="#8ba6d2" stroke-width="1.2"/><path d="M275.5,412 L273.5,372 C275,357 285,349.75 297.3,349.75 C310,349.75 318,354 322,362 L352,470 C356,485 353,500 346,512 C340,524 336,534 334,542" fill="none" stroke="#8ba6d2" stroke-width="1.2"/><path d="M161.44,544 C161.5,542.65 161.83,538.24 161.8,535.9 C161.77,533.56 161.56,531.37 161.26,529.96 C160.96,528.55 160.18,528.1 160,527.44 C159.82,526.78 160.15,526.24 160.18,526 L177.82,526 C177.85,526.24 178.18,526.78 178,527.44 C177.82,528.1 177.04,528.55 176.74,529.96 C176.44,531.37 176.23,533.56 176.2,535.9 C176.17,538.24 176.5,542.65 176.56,544 Z" fill="url(#bx)" stroke="#5873a8" stroke-opacity="0.6" stroke-width="0.8"/><path d="M160.27,528.2 Q169,530.7 177.73,528.2" fill="none" stroke="#b4c8ec" stroke-width="1.3" stroke-opacity="0.9"/><path d="M161.5,523.89 C161.55,523.39 161.49,522.75 161.78,520.86 C162.07,518.96 162.93,515.93 163.25,512.52 C163.58,509.1 163.82,504.04 163.73,500.36 C163.65,496.68 162.9,492.87 162.74,490.47 C162.59,488.06 162.79,486.67 162.8,485.91 L177.2,486.09 C177.19,486.85 177.36,488.25 177.14,490.65 C176.92,493.06 176.07,496.85 175.89,500.52 C175.71,504.19 175.81,509.26 176.05,512.68 C176.28,516.11 177.06,519.16 177.3,521.06 C177.54,522.97 177.47,523.6 177.5,524.11 Z" fill="url(#bx)" stroke="#5873a8" stroke-opacity="0.6" stroke-width="0.8"/><path d="M162.77,488.11 Q169.94,490.7 177.17,488.29" fill="none" stroke="#b4c8ec" stroke-width="1.3" stroke-opacity="0.9"/><path d="M163.01,483.64 C163.07,483.12 162.78,482.59 163.38,480.55 C163.98,478.51 165.97,473.94 166.61,471.38 C167.24,468.82 167.24,466.96 167.2,465.2 C167.17,463.43 166.83,462.12 166.37,460.81 C165.9,459.49 164.72,458.29 164.43,457.29 C164.14,456.3 164.42,455.58 164.63,454.82 C164.84,454.05 165.53,453.05 165.71,452.7 L178.29,453.3 C178.44,453.67 179.02,454.74 179.16,455.52 C179.3,456.31 179.5,457.04 179.12,458.01 C178.73,458.97 177.44,460.05 176.85,461.31 C176.27,462.58 175.8,463.85 175.6,465.6 C175.39,467.35 175.21,469.21 175.59,471.82 C175.98,474.43 177.52,479.16 177.92,481.25 C178.32,483.34 177.98,483.84 177.99,484.36 Z" fill="url(#bx)" stroke="#5873a8" stroke-opacity="0.6" stroke-width="0.8"/><path d="M192.76,544 C192.83,541.45 193.24,533.12 193.2,528.7 C193.16,524.28 192.91,520.14 192.54,517.48 C192.17,514.82 191.22,513.97 191,512.72 C190.78,511.47 191.18,510.45 191.22,510 L212.78,510 C212.82,510.45 213.22,511.47 213,512.72 C212.78,513.97 211.83,514.82 211.46,517.48 C211.09,520.14 210.84,524.28 210.8,528.7 C210.76,533.12 211.17,541.45 211.24,544 Z" fill="url(#bx)" stroke="#5873a8" stroke-opacity="0.6" stroke-width="0.8"/><path d="M191.33,512.2 Q202,514.7 212.67,512.2" fill="none" stroke="#b4c8ec" stroke-width="1.3" stroke-opacity="0.9"/><path d="M191.5,507.11 C191.54,506.49 191.45,505.73 191.76,503.43 C192.07,501.12 193.05,497.43 193.35,493.29 C193.66,489.14 193.81,483.01 193.59,478.56 C193.38,474.12 192.33,469.53 192.06,466.62 C191.8,463.71 192.01,462.02 192,461.1 L210,460.9 C210.01,461.82 210.26,463.51 210.06,466.42 C209.86,469.34 208.91,473.95 208.79,478.4 C208.67,482.85 208.95,488.98 209.35,493.11 C209.74,497.25 210.8,500.92 211.16,503.21 C211.52,505.51 211.44,506.28 211.5,506.89 Z" fill="url(#bx)" stroke="#5873a8" stroke-opacity="0.6" stroke-width="0.8"/><path d="M192.02,463.3 Q201.05,465.7 210.02,463.1" fill="none" stroke="#b4c8ec" stroke-width="1.3" stroke-opacity="0.9"/><path d="M193.5,458.21 C193.53,457.76 193.2,457.32 193.65,455.5 C194.1,453.69 195.75,449.59 196.2,447.32 C196.65,445.06 196.52,443.44 196.35,441.92 C196.18,440.39 195.75,439.28 195.2,438.17 C194.64,437.06 193.38,436.1 193.02,435.25 C192.65,434.41 192.87,433.77 193.03,433.09 C193.19,432.41 193.8,431.49 193.95,431.17 L206.55,430.83 C206.72,431.14 207.38,432.02 207.57,432.69 C207.77,433.36 208.02,433.98 207.71,434.85 C207.4,435.71 206.19,436.73 205.69,437.87 C205.2,439.01 204.83,440.15 204.75,441.68 C204.67,443.22 204.62,444.84 205.2,447.08 C205.77,449.31 207.65,453.31 208.2,455.1 C208.75,456.88 208.45,457.34 208.5,457.79 Z" fill="url(#bx)" stroke="#5873a8" stroke-opacity="0.6" stroke-width="0.8"/><path d="M225.34,544 C225.42,539.8 225.84,526.08 225.8,518.8 C225.76,511.52 225.49,504.71 225.11,500.32 C224.73,495.93 223.73,494.53 223.5,492.48 C223.27,490.43 223.69,488.75 223.73,488 L246.27,488 C246.31,488.75 246.73,490.43 246.5,492.48 C246.27,494.53 245.27,495.93 244.89,500.32 C244.51,504.71 244.24,511.52 244.2,518.8 C244.16,526.08 244.58,539.8 244.66,544 Z" fill="url(#bx)" stroke="#5873a8" stroke-opacity="0.6" stroke-width="0.8"/><path d="M223.84,490.2 Q235,492.7 246.16,490.2" fill="none" stroke="#b4c8ec" stroke-width="1.3" stroke-opacity="0.9"/><path d="M224,486.16 C224.04,485.49 223.94,484.66 224.26,482.15 C224.57,479.65 225.58,475.63 225.88,471.13 C226.18,466.62 226.3,459.95 226.06,455.12 C225.81,450.29 224.68,445.3 224.39,442.14 C224.1,438.98 224.32,437.14 224.3,436.14 L243.2,435.86 C243.21,436.86 243.49,438.69 243.29,441.86 C243.09,445.03 242.12,450.04 242.01,454.88 C241.91,459.72 242.24,466.38 242.67,470.87 C243.11,475.37 244.24,479.35 244.62,481.85 C245.01,484.34 244.94,485.18 245,485.84 Z" fill="url(#bx)" stroke="#5873a8" stroke-opacity="0.6" stroke-width="0.8"/><path d="M224.33,438.34 Q233.82,440.7 243.23,438.06" fill="none" stroke="#b4c8ec" stroke-width="1.3" stroke-opacity="0.9"/><path d="M225.75,434.23 C225.78,433.68 225.43,433.14 225.9,430.92 C226.37,428.71 228.1,423.7 228.57,420.94 C229.04,418.17 228.89,416.2 228.7,414.33 C228.51,412.46 228.05,411.1 227.45,409.74 C226.85,408.38 225.5,407.21 225.11,406.18 C224.72,405.14 224.95,404.36 225.11,403.53 C225.27,402.7 225.92,401.58 226.08,401.19 L239.52,400.81 C239.7,401.19 240.41,402.27 240.62,403.09 C240.83,403.91 241.11,404.67 240.78,405.72 C240.45,406.78 239.16,408.03 238.64,409.42 C238.12,410.81 237.74,412.2 237.66,414.07 C237.58,415.94 237.54,417.93 238.17,420.66 C238.79,423.4 240.82,428.29 241.41,430.48 C242.01,432.66 241.69,433.22 241.75,433.77 Z" fill="url(#bx)" stroke="#5873a8" stroke-opacity="0.6" stroke-width="0.8"/><path d="M254.84,544 C254.92,538.98 255.34,522.56 255.3,513.85 C255.26,505.14 254.99,496.99 254.61,491.74 C254.23,486.49 253.23,484.82 253,482.36 C252.77,479.9 253.19,477.89 253.23,477 L275.77,477 C275.81,477.89 276.23,479.9 276,482.36 C275.77,484.82 274.77,486.49 274.39,491.74 C274.01,496.99 273.74,505.14 273.7,513.85 C273.66,522.56 274.08,538.98 274.16,544 Z" fill="url(#bx)" stroke="#5873a8" stroke-opacity="0.6" stroke-width="0.8"/><path d="M253.34,479.2 Q264.5,481.7 275.65,479.2" fill="none" stroke="#b4c8ec" stroke-width="1.3" stroke-opacity="0.9"/><path d="M254.5,474.91 C254.56,474.18 254.48,473.27 254.84,470.55 C255.2,467.83 256.26,463.48 256.65,458.58 C257.05,453.67 257.33,446.41 257.21,441.14 C257.09,435.87 256.14,430.41 255.94,426.96 C255.74,423.5 255.99,421.51 256,420.42 L274,420.58 C273.99,421.67 274.2,423.67 273.94,427.12 C273.67,430.57 272.62,436.01 272.41,441.28 C272.19,446.55 272.34,453.82 272.65,458.72 C272.95,463.63 273.93,468 274.24,470.73 C274.55,473.46 274.46,474.36 274.5,475.09 Z" fill="url(#bx)" stroke="#5873a8" stroke-opacity="0.6" stroke-width="0.8"/><path d="M255.98,422.62 Q264.96,425.2 273.98,422.78" fill="none" stroke="#b4c8ec" stroke-width="1.3" stroke-opacity="0.9"/><path d="M257.52,419.02 C257.51,418.39 257.16,417.79 257.48,415.25 C257.81,412.72 259.18,406.97 259.47,403.81 C259.77,400.65 259.52,398.41 259.25,396.29 C258.98,394.17 258.47,392.64 257.84,391.11 C257.21,389.59 255.88,388.3 255.46,387.13 C255.04,385.97 255.21,385.08 255.32,384.13 C255.43,383.18 255.98,381.88 256.12,381.44 L268.68,380.56 C268.88,380.99 269.6,382.2 269.84,383.12 C270.08,384.05 270.38,384.91 270.12,386.12 C269.87,387.33 268.73,388.79 268.31,390.39 C267.9,391.99 267.61,393.58 267.63,395.71 C267.65,397.84 267.72,400.1 268.45,403.19 C269.18,406.28 271.33,411.78 272,414.25 C272.67,416.71 272.4,417.36 272.48,417.98 Z" fill="url(#bx)" stroke="#5873a8" stroke-opacity="0.6" stroke-width="0.8"/><path d="M293.66,424.63 C293.41,423.81 291.87,421.95 292.14,419.67 C292.41,417.4 294.77,413.65 295.3,410.97 C295.82,408.29 295.67,406.21 295.31,403.59 C294.94,400.97 293.49,396.64 293.12,395.25 L303.88,392.75 C304.16,394.16 304.76,398.69 305.59,401.21 C306.42,403.72 307.2,405.65 308.85,407.83 C310.51,410 314.27,412.32 315.52,414.25 C316.77,416.17 316.2,418.51 316.34,419.37 Z" fill="url(#bx)" stroke="#5873a8" stroke-opacity="0.6" stroke-width="0.8"/><path d="M165.39,442.28 L178.41,441.47 Q181.9,441.25 181.9,444.75 L181.9,448.4 Q181.9,451.9 178.42,452.25 L167.23,453.4 Q163.75,453.75 163.18,450.3 L162.47,445.95 Q161.9,442.5 165.39,442.28 Z" fill="#c8d3f0" stroke="#8fa3d2" stroke-width="0.9" stroke-opacity="0.8"/><ellipse cx="172.66" cy="450.91" rx="7.21" ry="5.13" fill="url(#nb)"/><path d="M190.89,416.58 L206.61,415.32 Q210.6,415 211.01,418.98 L211.49,423.52 Q211.9,427.5 207.97,428.27 L193.33,431.13 Q189.4,431.9 188.74,427.95 L187.56,420.85 Q186.9,416.9 190.89,416.58 Z" fill="#c8d3f0" stroke="#8fa3d2" stroke-width="0.9" stroke-opacity="0.8"/><ellipse cx="200.32" cy="427.29" rx="8.56" ry="6.84" fill="url(#nb)"/><path d="M217.69,388.05 L234.16,385.1 Q238.1,384.4 238.48,388.38 L239.02,394.12 Q239.4,398.1 235.46,398.78 L221.44,401.22 Q217.5,401.9 216.4,398.05 L214.85,392.6 Q213.75,388.75 217.69,388.05 Z" fill="#c8d3f0" stroke="#8fa3d2" stroke-width="0.9" stroke-opacity="0.8"/><ellipse cx="228.01" cy="397.65" rx="8.9" ry="6.15" fill="url(#nb)"/><path d="M247.49,366.52 L266.86,362.23 Q271.25,361.25 271.62,365.73 L272.13,371.77 Q272.5,376.25 268.11,377.24 L251.89,380.91 Q247.5,381.9 246.19,377.6 L244.41,371.8 Q243.1,367.5 247.49,366.52 Z" fill="#c8d3f0" stroke="#8fa3d2" stroke-width="0.9" stroke-opacity="0.8"/><ellipse cx="259.51" cy="376.5" rx="10.38" ry="6.78" fill="url(#nb)"/><path d="M284.38,366.42 L306.82,360.43 Q313.1,358.75 314.21,365.15 L316.99,381.1 Q318.1,387.5 311.76,388.94 L291.34,393.56 Q285,395 283.38,388.7 L279.72,374.4 Q278.1,368.1 284.38,366.42 Z" fill="#c8d3f0" stroke="#8fa3d2" stroke-width="0.9" stroke-opacity="0.8"/><ellipse cx="300.51" cy="386.38" rx="13.04" ry="12.5" fill="url(#nb)"/><ellipse transform="rotate(-10 302 495)" cx="302" cy="495" rx="5" ry="6.5" fill="#7089bb" stroke="#6680b2" stroke-width="0.7"/><path d="M306,495 C316,492 330,488 340,487 C343,498 338,510 332,520 C327,530 324,538 322.5,544 L289,544 C293,530 299,515 304,505 C303,500 304,497 306,495 Z" fill="url(#bx)" stroke="#5873a8" stroke-opacity="0.6" stroke-width="0.8"/><path d="M294,426 L319,422 C321,436 324,450 330,462 C334,470 338,475 340,480 L339.5,485 L306,493 C304,478 300,462 297,450 C295,442 294,434 294,426 Z" fill="url(#bx)" stroke="#5873a8" stroke-opacity="0.6" stroke-width="0.8"/><path d="M306.5,492 Q324,492 339.5,484" fill="none" stroke="#b0c9ec" stroke-width="1.6" stroke-linecap="round"/><path d="M294,424.5 Q307,426 318.5,421" fill="none" stroke="#b0c9ec" stroke-width="1.6" stroke-linecap="round"/><ellipse cx="326" cy="480" rx="26" ry="20" fill="url(#glow2)"/><ellipse cx="341" cy="480" rx="10" ry="19" fill="url(#glow)"/><clipPath id="c3"><path d="M146.5,542 L155,450 C155,441.6 162.04,435 171,435 C178.28,435 184,439.84 184,446 L186,542 Z"/><path d="M183,542 L183.5,421 C183.5,414.28 190.72,409 199.9,409 C207.8,409 214,413.84 214,420 L216,542 Z"/><path d="M209,542 L210,393 C210,386.06 217.04,380.6 226,380.6 C235.24,380.6 242.5,385.18 242.5,391 L250,542 Z"/><path d="M244,542 L239,371 C239,361.09 247.36,353.3 258,353.3 C267.52,353.3 275,357.13 275,362 L290,542 Z"/><path d="M282,542 L273.5,372 C275,357 285,349.75 297.3,349.75 C310,349.75 318,354 322,362 L352,470 C356,485 353,500 346,512 C340,524 336,534 334,542 Z"/></clipPath><rect clip-path="url(#c3)" x="100" y="465" width="600" height="77" fill="url(#fdB)"/><path d="M438.5,542 L447,445 C447,436.32 452.94,429.5 460.5,429.5 C467.5,429.5 473,434.12 473,440 L475,542 Z" fill="#d2e3f8" stroke="#d2e3f8" stroke-width="5" stroke-linejoin="round"/><path d="M472,542 L472.4,416 C472.4,409.5 479.04,404.4 487.5,404.4 C495.06,404.4 501,409.06 501,415 L503,542 Z" fill="#d2e3f8" stroke="#d2e3f8" stroke-width="5" stroke-linejoin="round"/><path d="M497,542 L497.5,389 C497.5,381.66 503.57,375.9 511.3,375.9 C519.25,375.9 525.5,380.78 525.5,387 L533,542 Z" fill="#d2e3f8" stroke="#d2e3f8" stroke-width="5" stroke-linejoin="round"/><path d="M526,542 L522,368.75 C522,359.43 529.83,352.1 539.8,352.1 C548.87,352.1 556,355.58 556,360 L572,542 Z" fill="#d2e3f8" stroke="#d2e3f8" stroke-width="5" stroke-linejoin="round"/><path d="M562,542 L554,372 C556,357 565,349.75 576.6,349.75 C590,349.75 597,352 601.5,356 L638,468 C641,478 638,492 630,502 C620,515 612,530 608.5,542 Z" fill="#d2e3f8" stroke="#d2e3f8" stroke-width="5" stroke-linejoin="round"/><path d="M438.5,542 L447,445 C447,436.32 452.94,429.5 460.5,429.5 C467.5,429.5 473,434.12 473,440 L475,542 Z" fill="#c0d9f6"/><path d="M472,542 L472.4,416 C472.4,409.5 479.04,404.4 487.5,404.4 C495.06,404.4 501,409.06 501,415 L503,542 Z" fill="#c0d9f6"/><path d="M497,542 L497.5,389 C497.5,381.66 503.57,375.9 511.3,375.9 C519.25,375.9 525.5,380.78 525.5,387 L533,542 Z" fill="#c0d9f6"/><path d="M526,542 L522,368.75 C522,359.43 529.83,352.1 539.8,352.1 C548.87,352.1 556,355.58 556,360 L572,542 Z" fill="#c0d9f6"/><path d="M562,542 L554,372 C556,357 565,349.75 576.6,349.75 C590,349.75 597,352 601.5,356 L638,468 C641,478 638,492 630,502 C620,515 612,530 608.5,542 Z" fill="#c0d9f6"/><path d="M438.5,542 L447,445 C447,436.32 452.94,429.5 460.5,429.5 C467.5,429.5 473,434.12 473,440 L473.78,480" fill="none" stroke="#8ba6d2" stroke-width="1.2"/><path d="M472.21,476 L472.4,416 C472.4,409.5 479.04,404.4 487.5,404.4 C495.06,404.4 501,409.06 501,415 L501.87,470" fill="none" stroke="#8ba6d2" stroke-width="1.2"/><path d="M497.4,419 L497.5,389 C497.5,381.66 503.57,375.9 511.3,375.9 C519.25,375.9 525.5,380.78 525.5,387 L527.92,437" fill="none" stroke="#8ba6d2" stroke-width="1.2"/><path d="M522.46,388.75 L522,368.75 C522,359.43 529.83,352.1 539.8,352.1 C548.87,352.1 556,355.58 556,360 L561.27,420" fill="none" stroke="#8ba6d2" stroke-width="1.2"/><path d="M555.88,412 L554,372 C556,357 565,349.75 576.6,349.75 C590,349.75 597,352 601.5,356 L638,468 C641,478 638,492 630,502 C620,515 612,530 608.5,542" fill="none" stroke="#8ba6d2" stroke-width="1.2"/><path d="M453.94,544 C454,541.83 454.33,534.72 454.3,530.95 C454.27,527.18 454.06,523.65 453.76,521.38 C453.46,519.11 452.68,518.38 452.5,517.32 C452.32,516.26 452.65,515.39 452.68,515 L470.32,515 C470.35,515.39 470.68,516.26 470.5,517.32 C470.32,518.38 469.54,519.11 469.24,521.38 C468.94,523.65 468.73,527.18 468.7,530.95 C468.67,534.72 469,541.83 469.06,544 Z" fill="url(#bx)" stroke="#5873a8" stroke-opacity="0.6" stroke-width="0.8"/><path d="M452.77,517.2 Q461.5,519.7 470.23,517.2" fill="none" stroke="#b4c8ec" stroke-width="1.3" stroke-opacity="0.9"/><path d="M453.5,513 C453.54,512.47 453.47,511.8 453.74,509.8 C454.01,507.8 454.82,504.6 455.1,501 C455.38,497.4 455.55,492.07 455.42,488.2 C455.29,484.33 454.49,480.33 454.3,477.8 C454.11,475.27 454.3,473.8 454.3,473 L468.7,473 C468.7,473.8 468.89,475.27 468.7,477.8 C468.51,480.33 467.71,484.33 467.58,488.2 C467.45,492.07 467.62,497.4 467.9,501 C468.18,504.6 468.99,507.8 469.26,509.8 C469.53,511.8 469.46,512.47 469.5,513 Z" fill="url(#bx)" stroke="#5873a8" stroke-opacity="0.6" stroke-width="0.8"/><path d="M454.3,475.2 Q461.5,477.7 468.7,475.2" fill="none" stroke="#b4c8ec" stroke-width="1.3" stroke-opacity="0.9"/><path d="M454.51,471.73 C454.56,471.3 454.28,470.85 454.82,469.14 C455.35,467.42 457.14,463.59 457.7,461.44 C458.26,459.29 458.24,457.73 458.18,456.25 C458.12,454.77 457.79,453.67 457.34,452.57 C456.9,451.47 455.78,450.47 455.5,449.64 C455.21,448.8 455.46,448.2 455.65,447.56 C455.83,446.92 456.46,446.07 456.62,445.77 L468.38,446.23 C468.52,446.54 469.08,447.42 469.21,448.08 C469.35,448.74 469.55,449.35 469.2,450.16 C468.86,450.97 467.67,451.88 467.14,452.95 C466.61,454.01 466.19,455.08 466.02,456.55 C465.84,458.02 465.7,459.58 466.1,461.76 C466.49,463.95 467.99,467.91 468.38,469.66 C468.78,471.41 468.48,471.83 468.49,472.27 Z" fill="url(#bx)" stroke="#5873a8" stroke-opacity="0.6" stroke-width="0.8"/><path d="M481.18,544 C481.25,540.4 481.63,528.64 481.6,522.4 C481.57,516.16 481.32,510.32 480.97,506.56 C480.62,502.8 479.71,501.6 479.5,499.84 C479.29,498.08 479.67,496.64 479.71,496 L500.29,496 C500.33,496.64 500.71,498.08 500.5,499.84 C500.29,501.6 499.38,502.8 499.03,506.56 C498.68,510.32 498.43,516.16 498.4,522.4 C498.37,528.64 498.75,540.4 498.82,544 Z" fill="url(#bx)" stroke="#5873a8" stroke-opacity="0.6" stroke-width="0.8"/><path d="M479.81,498.2 Q490,500.7 500.19,498.2" fill="none" stroke="#b4c8ec" stroke-width="1.3" stroke-opacity="0.9"/><path d="M481,494.22 C481.03,493.69 480.94,493.03 481.19,491.02 C481.44,489.01 482.28,485.79 482.5,482.18 C482.73,478.57 482.79,473.23 482.54,469.37 C482.3,465.51 481.3,461.53 481.02,459 C480.75,456.47 480.92,455 480.9,454.2 L497.1,453.8 C497.12,454.6 497.36,456.06 497.22,458.6 C497.07,461.14 496.27,465.16 496.22,469.03 C496.16,472.9 496.49,478.23 496.9,481.82 C497.3,485.41 498.3,488.59 498.65,490.58 C499,492.57 498.94,493.24 499,493.78 Z" fill="url(#bx)" stroke="#5873a8" stroke-opacity="0.6" stroke-width="0.8"/><path d="M480.96,456.4 Q489.12,458.7 497.15,456" fill="none" stroke="#b4c8ec" stroke-width="1.3" stroke-opacity="0.9"/><path d="M482,452.26 C482.02,451.81 481.71,451.37 482.11,449.55 C482.51,447.73 484.01,443.62 484.4,441.36 C484.8,439.09 484.66,437.47 484.48,435.95 C484.31,434.42 483.89,433.31 483.36,432.2 C482.83,431.09 481.64,430.15 481.29,429.3 C480.95,428.46 481.15,427.82 481.28,427.14 C481.42,426.46 481.98,425.54 482.12,425.22 L493.88,424.78 C494.04,425.09 494.67,425.97 494.86,426.64 C495.04,427.31 495.29,427.93 495.01,428.8 C494.72,429.66 493.6,430.7 493.16,431.84 C492.71,432.98 492.38,434.12 492.32,435.65 C492.26,437.19 492.24,438.81 492.8,441.04 C493.36,443.28 495.15,447.27 495.69,449.05 C496.22,450.83 495.94,451.29 496,451.74 Z" fill="url(#bx)" stroke="#5873a8" stroke-opacity="0.6" stroke-width="0.8"/><path d="M512.18,544 C512.25,539.12 512.63,523.2 512.6,514.75 C512.57,506.3 512.32,498.39 511.97,493.3 C511.62,488.21 510.71,486.58 510.5,484.2 C510.29,481.82 510.67,479.87 510.71,479 L531.29,479 C531.32,479.87 531.71,481.82 531.5,484.2 C531.29,486.58 530.38,488.21 530.03,493.3 C529.68,498.39 529.43,506.3 529.4,514.75 C529.37,523.2 529.75,539.12 529.82,544 Z" fill="url(#bx)" stroke="#5873a8" stroke-opacity="0.6" stroke-width="0.8"/><path d="M510.81,481.2 Q521,483.7 531.18,481.2" fill="none" stroke="#b4c8ec" stroke-width="1.3" stroke-opacity="0.9"/><path d="M512,477.26 C512.03,476.65 511.93,475.89 512.17,473.61 C512.4,471.33 513.22,467.66 513.41,463.56 C513.61,459.45 513.63,453.38 513.36,448.99 C513.08,444.59 512.05,440.07 511.76,437.19 C511.47,434.32 511.63,432.64 511.6,431.73 L527.8,431.27 C527.82,432.18 528.08,433.84 527.95,436.73 C527.83,439.62 527.06,444.19 527.03,448.59 C527.01,453 527.38,459.06 527.81,463.14 C528.24,467.23 529.26,470.84 529.62,473.11 C529.99,475.38 529.93,476.14 530,476.74 Z" fill="url(#bx)" stroke="#5873a8" stroke-opacity="0.6" stroke-width="0.8"/><path d="M511.67,433.93 Q519.83,436.2 527.86,433.47" fill="none" stroke="#b4c8ec" stroke-width="1.3" stroke-opacity="0.9"/><path d="M511.99,430.28 C511.97,429.75 511.6,429.26 511.9,427.11 C512.2,424.96 513.53,420.05 513.79,417.37 C514.05,414.69 513.77,412.81 513.46,411.04 C513.15,409.27 512.61,408 511.93,406.74 C511.26,405.48 509.87,404.45 509.42,403.49 C508.98,402.53 509.15,401.77 509.24,400.96 C509.34,400.16 509.89,399.04 510.02,398.66 L522.98,397.34 C523.18,397.69 523.94,398.68 524.2,399.45 C524.46,400.21 524.78,400.92 524.54,401.96 C524.29,402.99 523.14,404.27 522.73,405.64 C522.32,407.01 522.04,408.36 522.1,410.16 C522.15,411.96 522.25,413.86 523.05,416.43 C523.84,419 526.13,423.54 526.86,425.59 C527.59,427.64 527.32,428.2 527.41,428.72 Z" fill="url(#bx)" stroke="#5873a8" stroke-opacity="0.6" stroke-width="0.8"/><path d="M542.76,544 C542.83,538.98 543.24,522.56 543.2,513.85 C543.16,505.14 542.91,496.99 542.54,491.74 C542.17,486.49 541.22,484.82 541,482.36 C540.78,479.9 541.18,477.89 541.22,477 L562.78,477 C562.82,477.89 563.22,479.9 563,482.36 C562.78,484.82 561.83,486.49 561.46,491.74 C561.09,496.99 560.84,505.14 560.8,513.85 C560.76,522.56 561.17,538.98 561.24,544 Z" fill="url(#bx)" stroke="#5873a8" stroke-opacity="0.6" stroke-width="0.8"/><path d="M541.33,479.2 Q552,481.7 562.67,479.2" fill="none" stroke="#b4c8ec" stroke-width="1.3" stroke-opacity="0.9"/><path d="M542.54,475.84 C542.52,475.07 542.35,474.12 542.41,471.21 C542.47,468.31 543.03,463.63 542.9,458.42 C542.77,453.22 542.3,445.53 541.65,439.99 C541,434.44 539.54,428.78 539,425.16 C538.45,421.53 538.49,419.41 538.38,418.26 L555.42,416.74 C555.52,417.89 555.93,419.98 556.03,423.64 C556.13,427.31 555.69,433.14 556.03,438.71 C556.37,444.28 557.25,451.93 558.04,457.08 C558.83,462.22 560.2,466.74 560.77,469.59 C561.34,472.43 561.35,473.4 561.46,474.16 Z" fill="url(#bx)" stroke="#5873a8" stroke-opacity="0.6" stroke-width="0.8"/><path d="M538.58,420.45 Q547.32,422.18 555.61,418.94" fill="none" stroke="#b4c8ec" stroke-width="1.3" stroke-opacity="0.9"/><path d="M539.45,416.4 C539.42,415.78 539.03,415.21 539.24,412.72 C539.44,410.23 540.53,404.54 540.67,401.44 C540.81,398.34 540.46,396.16 540.09,394.1 C539.72,392.05 539.14,390.58 538.43,389.12 C537.73,387.66 536.34,386.47 535.86,385.35 C535.39,384.24 535.52,383.36 535.59,382.43 C535.65,381.49 536.14,380.2 536.25,379.75 L548.75,378.25 C548.97,378.65 549.75,379.79 550.03,380.68 C550.31,381.58 550.65,382.4 550.46,383.6 C550.26,384.79 549.19,386.28 548.86,387.86 C548.52,389.45 548.3,391.01 548.43,393.1 C548.56,395.18 548.73,397.38 549.61,400.36 C550.48,403.34 552.89,408.61 553.68,410.98 C554.47,413.35 554.24,414 554.35,414.6 Z" fill="url(#bx)" stroke="#5873a8" stroke-opacity="0.6" stroke-width="0.8"/><path d="M575.1,422.82 C574.87,421.95 573.33,419.95 573.7,417.58 C574.06,415.21 576.65,411.39 577.3,408.61 C577.94,405.83 577.86,403.65 577.58,400.9 C577.29,398.15 575.93,393.57 575.61,392.1 L586.89,389.9 C587.14,391.38 587.6,396.14 588.37,398.8 C589.15,401.45 589.89,403.5 591.53,405.84 C593.17,408.17 597.01,410.74 598.23,412.8 C599.46,414.86 598.79,417.28 598.9,418.18 Z" fill="url(#bx)" stroke="#5873a8" stroke-opacity="0.6" stroke-width="0.8"/><path d="M455.4,436.13 L467.75,435.72 Q471.25,435.6 471.49,439.09 L471.66,441.51 Q471.9,445 468.42,445.36 L457.23,446.54 Q453.75,446.9 453.15,443.45 L452.5,439.7 Q451.9,436.25 455.4,436.13 Z" fill="#c8d3f0" stroke="#8fa3d2" stroke-width="0.9" stroke-opacity="0.8"/><ellipse cx="462.61" cy="444.2" rx="6.97" ry="4.86" fill="url(#nb)"/><path d="M478.99,412.17 L494.11,410.93 Q498.1,410.6 498.32,414.59 L498.53,418.51 Q498.75,422.5 494.79,423.08 L481.46,425.02 Q477.5,425.6 476.75,421.67 L475.75,416.43 Q475,412.5 478.99,412.17 Z" fill="#c8d3f0" stroke="#8fa3d2" stroke-width="0.9" stroke-opacity="0.8"/><ellipse cx="487.85" cy="421.86" rx="8.34" ry="6" fill="url(#nb)"/><path d="M503.94,384.3 L517.31,381.95 Q521.25,381.25 521.65,385.23 L522.1,389.77 Q522.5,393.75 518.62,394.72 L506.38,397.78 Q502.5,398.75 501.78,394.81 L500.72,388.94 Q500,385 503.94,384.3 Z" fill="#c8d3f0" stroke="#8fa3d2" stroke-width="0.9" stroke-opacity="0.8"/><ellipse cx="512.17" cy="393.95" rx="7.77" ry="6.29" fill="url(#nb)"/><path d="M529.4,362.83 L547.5,359.02 Q551.9,358.1 552.47,362.56 L553.18,368.04 Q553.75,372.5 549.45,373.82 L533.7,378.68 Q529.4,380 528.22,375.66 L526.18,368.09 Q525,363.75 529.4,362.83 Z" fill="#c8d3f0" stroke="#8fa3d2" stroke-width="0.9" stroke-opacity="0.8"/><ellipse cx="541.03" cy="373.57" rx="9.9" ry="7.58" fill="url(#nb)"/><path d="M564.48,364.37 L587.37,359.98 Q593.75,358.75 594.63,365.19 L596.62,379.81 Q597.5,386.25 591.09,387.34 L570.81,390.81 Q564.4,391.9 562.89,385.58 L559.61,371.92 Q558.1,365.6 564.48,364.37 Z" fill="#c8d3f0" stroke="#8fa3d2" stroke-width="0.9" stroke-opacity="0.8"/><ellipse cx="580.07" cy="384.37" rx="13.07" ry="12.17" fill="url(#nb)"/><ellipse transform="rotate(-10 589 489)" cx="589" cy="489" rx="5.5" ry="6.5" fill="#7089bb" stroke="#6680b2" stroke-width="0.7"/><path d="M595,486 C605,482 618,477 628,475 C632,485 622,505 614,516 C608,525 603,535 600,544 L571,544 C576,530 585,512 591.7,499 C592,494 593,489 595,486 Z" fill="url(#bx)" stroke="#5873a8" stroke-opacity="0.6" stroke-width="0.8"/><path d="M575,421 L603,417 C605,430 609,441 615,450 C621,459 626,466 628,472 L595.5,482 C594,468 590,456 586,447 C580,437 576,430 575,421 Z" fill="url(#bx)" stroke="#5873a8" stroke-opacity="0.6" stroke-width="0.8"/><path d="M595.5,482 Q613,482 628.5,472.5" fill="none" stroke="#b0c9ec" stroke-width="1.6" stroke-linecap="round"/><path d="M575,421 Q590,423 603,417" fill="none" stroke="#b0c9ec" stroke-width="1.6" stroke-linecap="round"/><ellipse cx="613" cy="474" rx="26" ry="20" fill="url(#glow2)"/><ellipse cx="628" cy="474" rx="10" ry="19" fill="url(#glow)"/><clipPath id="c4"><path d="M438.5,542 L447,445 C447,436.32 452.94,429.5 460.5,429.5 C467.5,429.5 473,434.12 473,440 L475,542 Z"/><path d="M472,542 L472.4,416 C472.4,409.5 479.04,404.4 487.5,404.4 C495.06,404.4 501,409.06 501,415 L503,542 Z"/><path d="M497,542 L497.5,389 C497.5,381.66 503.57,375.9 511.3,375.9 C519.25,375.9 525.5,380.78 525.5,387 L533,542 Z"/><path d="M526,542 L522,368.75 C522,359.43 529.83,352.1 539.8,352.1 C548.87,352.1 556,355.58 556,360 L572,542 Z"/><path d="M562,542 L554,372 C556,357 565,349.75 576.6,349.75 C590,349.75 597,352 601.5,356 L638,468 C641,478 638,492 630,502 C620,515 612,530 608.5,542 Z"/></clipPath><rect clip-path="url(#c4)" x="100" y="465" width="600" height="77" fill="url(#fdB)"/><path d="M331,57 L340.5,168 L338,193.5 M355.7,57 L340.5,168" stroke="#111" stroke-width="1.8" fill="none" stroke-linejoin="round"/><path d="M337,60 H349.5" stroke="#111" stroke-width="1.9"/><path d="M334.2,60 L339.2,57 L339.2,63 Z" fill="#111"/><path d="M352.6,60 L347.6,63 L347.6,57 Z" fill="#111"/><text x="325" y="49.7" font-size="14" fill="#222" stroke="#222" stroke-width="0.2" textLength="41.5" lengthAdjust="spacingAndGlyphs">15-20°</text><path d="M617.4,59.7 L631.4,175.5 L629.5,196 M647.6,59.7 L631.4,175.5" stroke="#111" stroke-width="1.8" fill="none" stroke-linejoin="round"/><path d="M623.5,62.8 H641" stroke="#111" stroke-width="1.9"/><path d="M620.2,62.8 L625.2,59.8 L625.2,65.8 Z" fill="#111"/><path d="M644.2,62.8 L639.2,65.8 L639.2,59.8 Z" fill="#111"/><text x="614.3" y="52.8" font-size="14" fill="#222" stroke="#222" stroke-width="0.2" textLength="39.5" lengthAdjust="spacingAndGlyphs">20-30°</text><path d="M320.5,350.4 L353.3,474.8 L351.4,500.3 M367.8,350.4 L353.3,474.8" stroke="#111" stroke-width="1.8" fill="none" stroke-linejoin="round"/><path d="M333.5,353 Q345.6,348 357.7,353" stroke="#111" stroke-width="1.8" fill="none"/><path d="M330.2,354.6 L333.53,349.81 L335.99,355.28 Z" fill="#111"/><path d="M361,354.6 L355.21,355.28 L357.67,349.81 Z" fill="#111"/><text x="325.6" y="344" font-size="14" fill="#222" stroke="#222" stroke-width="0.2" textLength="45" lengthAdjust="spacingAndGlyphs">30-40°</text><path d="M597.8,351 L640.1,470 L638.3,489.5 M656.9,351 L640.1,470" stroke="#111" stroke-width="1.8" fill="none" stroke-linejoin="round"/><path d="M609,354.5 Q629,347 649,354.5" stroke="#111" stroke-width="1.7" fill="none"/><path d="M605.5,356.5 L608.44,351.46 L611.33,356.72 Z" fill="#111"/><path d="M652.5,356.5 L646.67,356.72 L649.56,351.46 Z" fill="#111"/><text x="605.8" y="344.3" font-size="13.5" fill="#222" stroke="#222" stroke-width="0.2" textLength="21" lengthAdjust="spacingAndGlyphs">40°</text><g stroke="#222" stroke-width="1.5" fill="none" stroke-linecap="round"><path d="M630,335 V343.5 L634,341 M633.5,336.5 L635,339 M638.8,334.5 Q638.8,342 633,345.5 M637.5,341 L640.5,345"/><path d="M647,334.5 V344.3 M647,339 H651.5 M642,344.3 H652.7"/></g><path d="M127.3,247 H384 V294.5 Q384,306.5 372,306.5 H139.3 Q127.3,306.5 127.3,294.5 Z" fill="#044ac5"/><text x="168" y="288.2" font-size="25" fill="#fff" stroke="#fff" stroke-width="0.8" textLength="65.2" lengthAdjust="spacingAndGlyphs">MILD</text><text x="240" y="288.2" font-size="25" fill="#fff" stroke="#fff" stroke-width="0.8" textLength="97.6" lengthAdjust="spacingAndGlyphs">VALGUS</text><path d="M415.3,247 H672 V294.5 Q672,306.5 660,306.5 H427.3 Q415.3,306.5 415.3,294.5 Z" fill="#044ac5"/><text x="423.4" y="286.8" font-size="25" fill="#fff" stroke="#fff" stroke-width="0.8" textLength="135.8" lengthAdjust="spacingAndGlyphs">MODERATE</text><text x="568" y="286.8" font-size="25" fill="#fff" stroke="#fff" stroke-width="0.8" textLength="99.4" lengthAdjust="spacingAndGlyphs">VALGUS</text><path d="M127.3,542 H384 V588.6 Q384,600.6 372,600.6 H139.3 Q127.3,600.6 127.3,588.6 Z" fill="#044ac5"/><text x="155.8" y="581.2" font-size="25" fill="#fff" stroke="#fff" stroke-width="0.8" textLength="88.7" lengthAdjust="spacingAndGlyphs">SEVERE</text><text x="252.2" y="581.2" font-size="25" fill="#fff" stroke="#fff" stroke-width="0.8" textLength="99.6" lengthAdjust="spacingAndGlyphs">VALGUS</text><path d="M415.3,542 H672 V588.6 Q672,600.6 660,600.6 H427.3 Q415.3,600.6 415.3,588.6 Z" fill="#044ac5"/><text x="449.8" y="581.2" font-size="25" fill="#fff" stroke="#fff" stroke-width="0.8" textLength="87.7" lengthAdjust="spacingAndGlyphs">SEVERE</text><text x="546.1" y="581.2" font-size="25" fill="#fff" stroke="#fff" stroke-width="0.8" textLength="98.7" lengthAdjust="spacingAndGlyphs">VALGUS</text><rect x="40" y="619" width="720" height="160" rx="12" fill="#0545c7"/><text x="60.3" y="659.6" font-size="20.5" fill="#fff" stroke="#fff" stroke-width="0.15" textLength="632" lengthAdjust="spacingAndGlyphs">Mild thumb valgus in the early stage will only affect the appearance,</text><text x="62" y="684.8" font-size="20.5" fill="#fff" stroke="#fff" stroke-width="0.15" textLength="682" lengthAdjust="spacingAndGlyphs">wearing shoes is not good looking moderate/severe stage will appear toe</text><text x="62" y="710.6" font-size="20.5" fill="#fff" stroke="#fff" stroke-width="0.15" textLength="650" lengthAdjust="spacingAndGlyphs">joint inflammation/toe overlap/arch collapse plantar fasciitis, causing</text><text x="62" y="736.3" font-size="20.5" fill="#fff" stroke="#fff" stroke-width="0.15" textLength="605" lengthAdjust="spacingAndGlyphs">foot pain, walking difficulties and other troubles through physical</text><text x="61.5" y="761.5" font-size="20.5" fill="#fff" stroke="#fff" stroke-width="0.15" textLength="614" lengthAdjust="spacingAndGlyphs">correction, the valgus deformed foot thumb to the normal position</text>
</svg>
</body></html>
